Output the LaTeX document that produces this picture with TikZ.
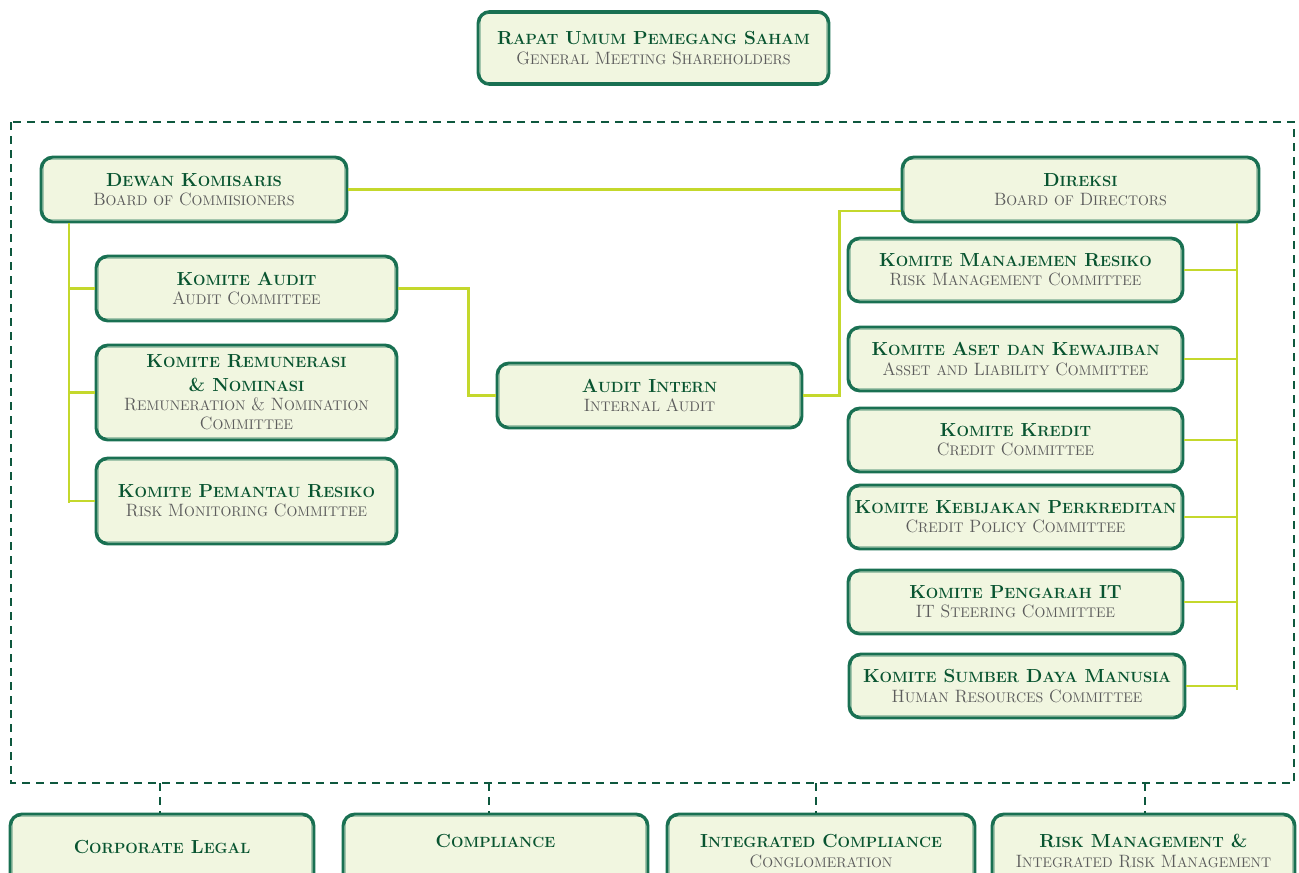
\documentclass[tikz,border=0pt]{standalone}
\usepackage{xcolor}
\usepackage{tikz}
\definecolor{boxline}{RGB}{25,112,82}
\definecolor{ttlgreen}{RGB}{8,84,48}
\definecolor{subgray}{RGB}{92,92,92}
\definecolor{boxfill}{RGB}{241,246,224}
\definecolor{linkgreen}{RGB}{196,216,44}
\definecolor{dashgreen}{RGB}{14,88,62}

% kapitaal + kleinkapitaal, woord voor woord
\ExplSyntaxOn
\NewDocumentCommand \fakesc { m }
  {
    \seq_set_split:Nnn \l_tmpa_seq { ~ } { #1 }
    \seq_map_indexed_inline:Nn \l_tmpa_seq
      {
        \int_compare:nNnT { ##1 } > { 1 } { \c_space_tl }
        \fakesc_word:n { ##2 }
      }
  }
\cs_new_protected:Npn \fakesc_word:n #1
  {
    \tl_set:Nx \l_tmpa_tl { \tl_head:n { #1 } }
    \tl_set:Nx \l_tmpb_tl { \tl_tail:n { #1 } }
    \str_if_eq:eeTF { #1 } { \text_uppercase:n { #1 } }
      { #1 }
      {
        \str_if_eq:eeTF { \l_tmpa_tl } { \text_uppercase:n { \l_tmpa_tl } }
          { \l_tmpa_tl \fakesc_small:V \l_tmpb_tl }
          { \fakesc_small:n { #1 } }
      }
  }
\cs_new_protected:Npn \fakesc_small:n #1
  {
    { \fontsize { \fp_eval:n { 0.78 * \use:c { f@size } } } { \baselineskip }
      \selectfont \text_uppercase:n { #1 } }
  }
\cs_generate_variant:Nn \fakesc_small:n { V }
\ExplSyntaxOff

\newcommand\boxtitle[1]{{\color{ttlgreen}\bfseries\fontsize{14.2}{16}\selectfont\fakesc{#1}}}
\newcommand\boxsub[1]{{\color{subgray}\fontsize{13.4}{14}\selectfont\fakesc{#1}}}

\begin{document}
\begin{tikzpicture}[x=0.75pt, y=-0.75pt,
    box/.style={draw=boxline, line width=2.2pt, fill=boxfill, rounded corners=9pt,
      align=center, inner sep=0pt, font=\fontsize{13}{14.5}\selectfont},
    wh/.style 2 args={minimum width=#1*0.75pt, minimum height=#2*0.75pt},
    boxtext/.style={align=center, inner sep=0pt, font=\fontsize{13}{14.5}\selectfont},
    link/.style={draw=linkgreen, line width=2pt},
    dashline/.style={draw=dashgreen, line width=2pt, dash pattern=on 6pt off 4.5pt}]
  \useasboundingbox (0,0) rectangle (1299,872);
  \clip (0,0) rectangle (1299,872);
  % kader
  \draw[dashline] (11,122) rectangle (1294,783);
  % RUPS
  \node[box, wh={351}{73}] (rups) at (653.5,48)
    {\boxtitle{Rapat Umum Pemegang Saham}\\\boxsub{General Meeting Shareholders}};
  % komisarissen
  \node[box, wh={306}{65}] (dk) at (194,189.5)
    {\boxtitle{Dewan Komisaris}\\\boxsub{Board of Commisioners}};
  \node[box, wh={301}{65}] (kaud) at (246.5,288.5)
    {\boxtitle{Komite Audit}\\\boxsub{Audit Committee}};
  \node[box, wh={301}{95}] (krem) at (246.5,392.5)
    {\boxtitle{Komite Remunerasi}\\[3pt]\boxtitle{\& Nominasi}\\\boxsub{Remuneration \& Nomination}\\\boxsub{Committee}};
  \node[box, wh={301}{86}] (kpr) at (246.5,501)
    {\boxtitle{Komite Pemantau Resiko}\\\boxsub{Risk Monitoring Committee}};
  % audit intern
  \node[box, wh={305}{65}] (ai) at (649.5,395.5)
    {\boxtitle{Audit Intern}\\\boxsub{Internal Audit}};
  % direksi
  \node[box, wh={357}{65}] (dir) at (1080.5,189.5)
    {\boxtitle{Direksi}\\\boxsub{Board of Directors}};
  \node[box, wh={335}{64}] (kmr) at (1015.5,270)
    {\boxtitle{Komite Manajemen Resiko}\\\boxsub{Risk Management Committee}};
  \node[box, wh={335}{64}] (kak) at (1015.5,359)
    {\boxtitle{Komite Aset dan Kewajiban}\\\boxsub{Asset and Liability Committee}};
  \node[box, wh={335}{64}] (kk) at (1015.5,440)
    {\boxtitle{Komite Kredit}\\\boxsub{Credit Committee}};
  \node[box, wh={335}{64}] (kkp) at (1015.5,517)
    {\boxtitle{Komite Kebijakan Perkreditan}\\\boxsub{Credit Policy Committee}};
  \node[box, wh={335}{64}] (kpit) at (1015.5,602)
    {\boxtitle{Komite Pengarah IT}\\\boxsub{IT Steering Committee}};
  \node[box, wh={336}{64}] (ksdm) at (1017,686)
    {\boxtitle{Komite Sumber Daya Manusia}\\\boxsub{Human Resources Committee}};
  % onderste rij
  \node[box, wh={304}{100}] (legal) at (162,864) {};
  \node[box, wh={305}{100}] (comp) at (495.5,864) {};
  \node[box, wh={308}{100}] (icomp) at (821,864) {};
  \node[box, wh={303}{100}] (risk) at (1143.5,864) {};
  \node[boxtext] (legal-t) at (162,847) {\boxtitle{Corporate Legal}};
  \node[boxtext] (comp-t) at (495.5,841) {\boxtitle{Compliance}};
  \node[boxtext] (icomp-t) at (821,851)
    {\boxtitle{Integrated Compliance}\\\boxsub{Conglomeration}};
  \node[boxtext] (risk-t) at (1143.5,851)
    {\boxtitle{Risk Management \&}\\\boxsub{Integrated Risk Management}};
  % binnenlijn
  \foreach \n in {rups,dk,kaud,krem,kpr,ai,dir,kmr,kak,kk,kkp,kpit,ksdm,legal,comp,icomp,risk}
  \draw[boxline, line width=0.6pt, rounded corners=6.5pt]
    ([shift={(2.6pt,-2.6pt)}]\n.north west) rectangle ([shift={(-2.6pt,2.6pt)}]\n.south east);
  % verbindingen
  \draw[link] (dk) -- (dir);
  \draw[link] (dk.south -| 69,0) -- (69,503);
  \foreach \k in {kaud,krem,kpr}
  \draw[link] (69,0 |- \k.west) -- (\k.west);
  \draw[link] (kaud.east) -- ++(70,0) |- (ai.west);
  \draw[link] (ai.east) -- ++(36,0) |- ([yshift=-16pt]dir.west);
  \draw[link] (dir.south -| 1237,0) -- (1237,690);
  \foreach \k in {kmr,kak,kk,kkp,kpit,ksdm}
  \draw[link] (\k.east) -- (1237,0 |- \k.east);
  % stippellijntjes naar onderste rij
  \foreach \k/\x in {legal/160,comp/489,icomp/816,risk/1145}
  \draw[dashline] (\x,783) -- (\x,0 |- \k.north);
\end{tikzpicture}
\end{document}
